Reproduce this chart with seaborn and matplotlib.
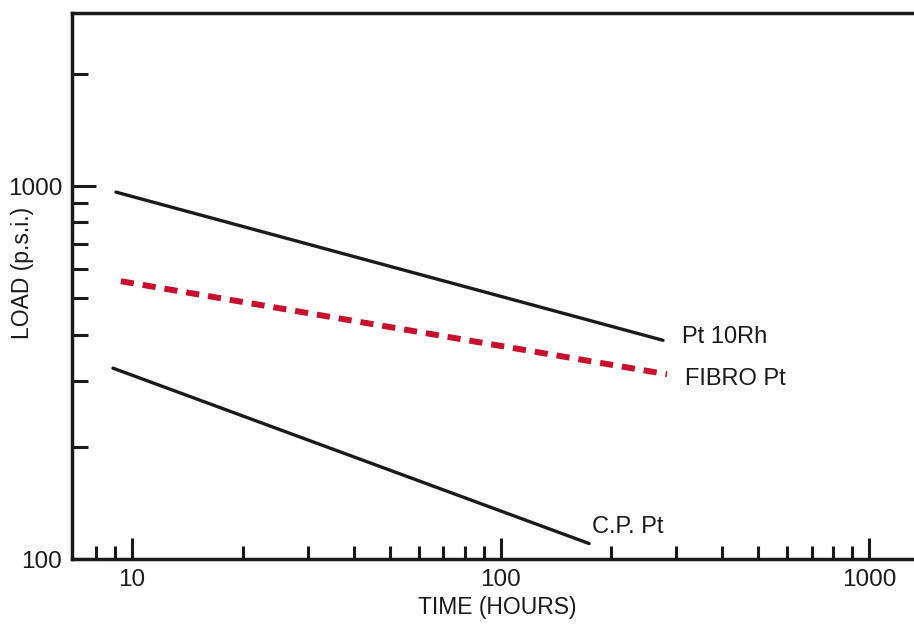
import numpy as np
import pandas as pd
import matplotlib
matplotlib.use("Agg")
import matplotlib.pyplot as plt
from matplotlib.ticker import LogLocator, FixedLocator, FuncFormatter, NullFormatter
import seaborn as sns

# values (log-log), two end points per line
pt10rh_hours = [9.05, 276]
pt10rh_load = [964, 386]
fibro_hours = [9.33, 283]
fibro_load = [556, 313]
cp_hours = [8.88, 174]
cp_load = [325, 110]

labels = ["Pt 10Rh", "FIBRO Pt", "C.P. Pt"]

sns.set_style("ticks")
plt.rcParams['font.family'] = ['Liberation Sans', 'DejaVu Sans']

fig = plt.figure(figsize=(9.14, 6.28), dpi=100)
ax = fig.add_axes([72/914, 1-559/628, 842/914, 546/628])

ink = "#1a1a1a"
red = "#C8102E"
sns.lineplot(x=pt10rh_hours, y=pt10rh_load, ax=ax, color=ink, lw=2.4)
sns.lineplot(x=fibro_hours, y=fibro_load, ax=ax, color=red, lw=4.3,
             linestyle=(0, (2.2, 1.5)), dash_capstyle="butt")
sns.lineplot(x=cp_hours, y=cp_load, ax=ax, color=ink, lw=2.4)

ax.set_xscale("log")
ax.set_yscale("log")
ax.set_xlim(6.875, 1324)
ax.set_ylim(100, 2914)

fmt = FuncFormatter(lambda v, p: f"{v:g}")
minor_x = [m * 10.0**e for e in range(0, 4) for m in range(2, 10)]
minor_x = [v for v in minor_x if 7.5 < v < 1300]
ax.xaxis.set_major_locator(LogLocator(base=10))
ax.xaxis.set_minor_locator(FixedLocator(minor_x))
ax.yaxis.set_major_locator(LogLocator(base=10))
ax.yaxis.set_minor_locator(LogLocator(base=10, subs=np.arange(2, 10)))
for axis in (ax.xaxis, ax.yaxis):
    axis.set_major_formatter(fmt)
    axis.set_minor_formatter(NullFormatter())

ax.tick_params(axis="both", which="both", direction="in", width=2.2,
               color=ink, labelsize=17.5, pad=7, labelcolor=ink)
ax.tick_params(axis="x", which="major", length=15)
ax.tick_params(axis="x", which="minor", length=9.5)
ax.tick_params(axis="y", which="major", length=17)
ax.tick_params(axis="y", which="minor", length=11.5)

ax.spines["right"].set_visible(False)
for s in ("left", "top", "bottom"):
    ax.spines[s].set_linewidth(2.5)
    ax.spines[s].set_color(ink)

# end-of-line labels
ends = [(pt10rh_hours[-1], pt10rh_load[-1]), (fibro_hours[-1], fibro_load[-1]),
        (cp_hours[-1], cp_load[-1])]
offsets = [(13.7, 2.2), (13, -3.6), (2, 12)]
for lab, (x, y), off in zip(labels, ends, offsets):
    ax.annotate(lab, (x, y), xytext=off, textcoords="offset points",
                fontsize=17, ha="left", va="center", color=ink)

ax.set_xlabel("TIME (HOURS)", fontsize=16.5, color=ink)
ax.set_ylabel("LOAD (p.s.i.)", fontsize=16.5, color=ink)
ax.xaxis.set_label_coords(0.505, -0.068)
ax.yaxis.set_label_coords(-0.045, 0.524)

fig.savefig("out.png", dpi=100)
